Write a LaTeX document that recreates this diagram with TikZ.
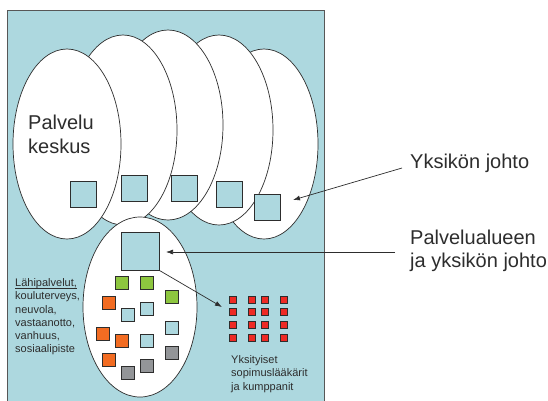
\documentclass[tikz,border=0pt]{standalone}
\usepackage{fontspec}
\setmainfont{Liberation Sans}
\usetikzlibrary{arrows.meta,calc,shapes.geometric,shadows}

\definecolor{paleblue}{RGB}{173,216,223}
\definecolor{sqgreen}{RGB}{141,198,63}
\definecolor{sqorange}{RGB}{242,108,34}
\definecolor{sqgray}{RGB}{147,149,152}
\definecolor{sqred}{RGB}{238,42,36}
\definecolor{ink}{RGB}{45,45,45}

\newcommand\ulined[1]{\setbox0\hbox{#1}\rlap{\rule[-1.6pt]{\wd0}{0.5pt}}\box0}

\tikzset{
	unit/.style={ellipse, draw=ink, fill=white, line width=0.7pt, inner sep=0pt, minimum width=108pt, minimum height=190pt},
	box/.style={rectangle, draw=ink, line width=0.9pt, inner sep=0pt, minimum size=#1,
		drop shadow={shadow xshift=0.8pt, shadow yshift=-0.8pt, opacity=.35}},
	label/.style={text=ink, align=left, inner sep=0pt, anchor=north west},
	pointer/.style={draw=ink, line width=0.7pt, -{Latex[length=7pt,width=5pt]}}
}

\begin{document}
\begin{tikzpicture}[x=1pt,y=-1pt]
	\useasboundingbox (0,0) rectangle (548,400);
	\fill[paleblue] (7,10) rectangle (324,401);
	\draw[ink!80, line width=0.9pt] (7,401) -- (7,10) -- (324,10) -- (324,401);

	% palvelukeskukset, back to front
	\node[unit] (keskus5) at (264,144) {};
	\node[unit] (keskus4) at (219,130) {};
	\node[unit, minimum width=110pt] (keskus3) at (168,125) {};
	\node[unit] (keskus2) at (123,130) {};
	\node[unit] (keskus1) at (67,144) {};

	\node[box=26pt, fill=paleblue] (johto1) at (83,194.5) {};
	\node[box=26pt, fill=paleblue] (johto2) at (134,188) {};
	\node[box=26pt, fill=paleblue] (johto3) at (184.5,188) {};
	\node[box=26pt, fill=paleblue] (johto4) at (229.5,194.5) {};
	\node[box=26pt, fill=paleblue] (johto5) at (267,207) {};

	\node[label, font=\fontsize{20}{24}\selectfont] (keskus) at (28,115) {Palvelu\\keskus};

	% palvelualue
	\node[unit, minimum width=114pt, minimum height=180pt] (alue) at (140,307) {};
	\node[box=38pt, fill=paleblue] (aluejohto) at (140,251) {};

	\foreach \x/\y in {121.5/283, 146.5/283, 172/296.5}
		\node[box=13pt, fill=sqgreen] at (\x,\y) {};
	\foreach \x/\y in {108.5/302.5, 102.5/334, 121.5/340.5, 108.5/359.5}
		\node[box=13pt, fill=sqorange] at (\x,\y) {};
	\foreach \x/\y in {127.5/315, 146.5/308.5, 172/327.5, 146.5/340.5}
		\node[box=13pt, fill=paleblue] at (\x,\y) {};
	\foreach \x/\y in {172/353, 146.5/365.5, 127.5/372.5}
		\node[box=13pt, fill=sqgray] at (\x,\y) {};

	\node[label, font=\fontsize{11}{13.2}\selectfont] (lahi) at (15,278.5)
		{\ulined{Lähipalvelut,}\\kouluterveys,\\neuvola,\\vastaanotto,\\vanhuus,\\sosiaalipiste};

	% yksityiset
	\foreach \x in {232.5,251.5,264.5,283.5}
		\foreach \y in {299.5,312,324.5,337.5}
			\node[box=7pt, fill=sqred, line width=0.6pt] at (\x,\y) {};
	\node[label, font=\fontsize{11}{13.6}\selectfont] (yksit) at (231,355)
		{Yksityiset\\sopimuslääkärit\\ja kumppanit};

	% selitteet
	\node[label, font=\fontsize{20}{23}\selectfont] (yjohto) at (410,153.5) {Yksikön johto};
	\node[label, font=\fontsize{20}{23}\selectfont] (ajohto) at (410,230) {Palvelualueen\\ja yksikön johto};

	\coordinate (yjohtoA) at (402,168);
	\coordinate (yjohtoB) at (293,200);
	\coordinate (ajohtoA) at (395,252);
	\coordinate (ajohtoB) at (166,252);
	\coordinate (yksitB)  at (222,307);

	\draw[pointer] (yjohtoA) -- (yjohtoB);
	\draw[pointer] (ajohtoA) -- (ajohtoB);
	\draw[pointer] (aluejohto.south east) -- (yksitB);
\end{tikzpicture}
\end{document}
